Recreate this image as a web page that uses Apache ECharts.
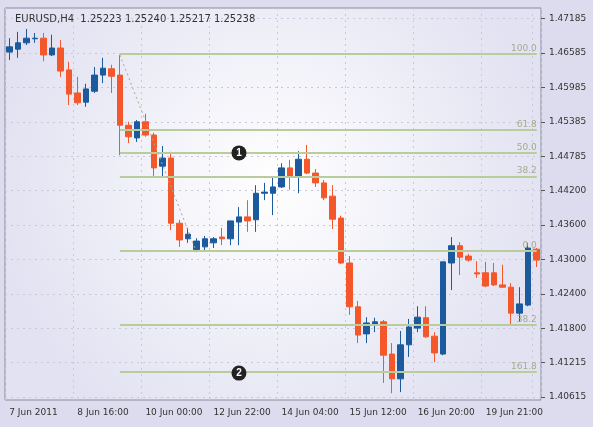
<!DOCTYPE html>
<html>
<head>
<meta charset="utf-8">
<script src="https://cdn.jsdelivr.net/npm/echarts@6/dist/echarts.min.js"></script>
<style>
  html, body { margin: 0; padding: 0; background: #dcdcee; }
  #main { width: 593px; height: 427px; }
</style>
</head>
<body>
<div id="main"></div>
<script>
// open, close, low, high per H4 bar
var opens  = [1.4660,1.4665,1.4676,1.4683,1.4684,1.4655,1.4667,1.4629,1.4589,1.4573,1.4592,1.4620,1.4631,1.4620,1.4533,1.4511,1.4539,1.4516,1.4462,1.4476,1.4363,1.4336,1.4317,1.4322,1.4329,1.4339,1.4336,1.4365,1.4374,1.4369,1.4415,1.4415,1.4426,1.4459,1.4443,1.4474,1.4450,1.4433,1.4410,1.4372,1.4294,1.4218,1.4171,1.4186,1.4192,1.4136,1.4093,1.4152,1.4181,1.4199,1.4167,1.4136,1.4294,1.4324,1.4306,1.4277,1.4277,1.4277,1.4256,1.4252,1.4207,1.4221,1.4318];
var closes = [1.4669,1.4676,1.4684,1.4684,1.4655,1.4667,1.4627,1.4587,1.4572,1.4596,1.4620,1.4632,1.4618,1.4533,1.4513,1.4539,1.4516,1.4459,1.4476,1.4363,1.4334,1.4344,1.4332,1.4336,1.4336,1.4336,1.4367,1.4374,1.4367,1.4415,1.4417,1.4426,1.4459,1.4445,1.4474,1.4450,1.4433,1.4407,1.4370,1.4294,1.4218,1.4169,1.4190,1.4192,1.4134,1.4093,1.4152,1.4183,1.4200,1.4166,1.4138,1.4296,1.4324,1.4304,1.4299,1.4275,1.4254,1.4256,1.4252,1.4207,1.4223,1.4320,1.4299];
var lows   = [1.4646,1.4650,1.4672,1.4676,1.4644,1.4653,1.4617,1.4568,1.4568,1.4565,1.4589,1.4606,1.4589,1.4481,1.4502,1.4504,1.4513,1.4445,1.4443,1.4351,1.4322,1.4329,1.4313,1.4315,1.4320,1.4325,1.4325,1.4325,1.4348,1.4348,1.4403,1.4377,1.4424,1.4421,1.4415,1.4448,1.4426,1.4403,1.4353,1.4292,1.4204,1.4155,1.4155,1.4174,1.4086,1.4068,1.4070,1.4131,1.4174,1.4164,1.4122,1.4134,1.4247,1.4273,1.4296,1.4268,1.4252,1.4254,1.4251,1.4188,1.4192,1.4219,1.4287];
var highs  = [1.4684,1.4695,1.4700,1.4693,1.4693,1.4690,1.4681,1.4643,1.4617,1.4605,1.4634,1.4650,1.4638,1.4655,1.4539,1.4542,1.4553,1.4520,1.4497,1.4487,1.4369,1.4355,1.4337,1.4341,1.4339,1.4355,1.4367,1.4391,1.4403,1.4429,1.4433,1.4443,1.4467,1.4473,1.4488,1.4499,1.4457,1.4438,1.4429,1.4376,1.4306,1.4228,1.4200,1.4199,1.4195,1.4155,1.4176,1.4197,1.4219,1.4219,1.4174,1.4296,1.4339,1.4330,1.4310,1.4297,1.4296,1.4294,1.4291,1.4259,1.4252,1.4329,1.4320];

var timeLabels = {0: "7 Jun 2011", 8: "8 Jun 16:00", 16: "10 Jun 00:00", 24: "12 Jun 22:00",
  32: "14 Jun 04:00", 40: "15 Jun 12:00", 48: "16 Jun 20:00", 56: "19 Jun 21:00"};
var priceTicks = [1.40615, 1.41215, 1.41800, 1.42400, 1.43000, 1.43600, 1.44200, 1.44785, 1.45385, 1.45985, 1.46585, 1.47185];

// fibonacci levels (price, label)
var fibLevels = [1.4657, 1.4525, 1.4485, 1.4444, 1.4315, 1.4186, 1.4105];
var fibNames  = ["100.0", "61.8", "50.0", "38.2", "0.0", "38.2", "161.8"];
var fibStart = 13;
var markers = [[27, 1.4485, "1"], [27, 1.4103, "2"]];

var cats = [], candles = [];
for (var i = 0; i < opens.length; i++) {
  cats.push(timeLabels[i] || "");
  candles.push([opens[i], closes[i], lows[i], highs[i]]);
}
var lastIdx = opens.length - 1;

var fibLines = fibLevels.map(function (v, k) {
  return [{ coord: [fibStart, v], label: { formatter: fibNames[k] } }, { coord: [lastIdx, v] }];
});
fibLines.push([{ coord: [13, highs[13]], lineStyle: { type: [2, 3], color: "#b0a890", width: 1 }, label: { show: false } },
               { coord: [22, lows[22]] }]);

var myChart = echarts.init(document.getElementById("main"));
var option = {
  animation: false,
  backgroundColor: "#dcdcee",
  title: {
    text: "EURUSD,H4  1.25223 1.25240 1.25217 1.25238",
    left: 10, top: 9,
    textStyle: { fontSize: 10, fontWeight: "normal", color: "#333", fontFamily: "DejaVu Sans" }
  },
  grid: {
    left: 5, right: 52, top: 8, bottom: 27, show: true,
    borderColor: "#8a8a9a", borderWidth: 1,
    backgroundColor: {
      type: "radial", x: 0.5, y: 0.45, r: 0.7,
      colorStops: [{ offset: 0, color: "#ffffff" }, { offset: 1, color: "#e2e2f2" }]
    }
  },
  xAxis: {
    type: "category",
    data: cats,
    axisLine: { show: false },
    axisTick: { show: false },
    axisLabel: { interval: 0, align: "left", margin: 8, fontSize: 9, color: "#333", fontFamily: "DejaVu Sans" },
    splitLine: { show: true, interval: 7, lineStyle: { type: [2, 4], color: "#c8c8d8" } }
  },
  yAxis: {
    type: "value",
    position: "right",
    min: 1.40563, max: 1.47364,
    axisLine: { show: false },
    axisTick: { show: true, customValues: priceTicks, length: 4, lineStyle: { color: "#555" } },
    axisLabel: { customValues: priceTicks, fontSize: 9, color: "#333", margin: 8, fontFamily: "DejaVu Sans",
      formatter: function (v) { return v.toFixed(5); } },
    splitLine: { show: true, lineStyle: { type: [2, 4], color: "#c8c8d8" } }
  },
  series: [{
    type: "candlestick",
    data: candles,
    barWidth: 6,
    itemStyle: {
      color: "#1c5a9e", color0: "#f4582a",
      borderColor: "#1c5a9e", borderColor0: "#f4582a", borderWidth: 1
    },
    markLine: {
      symbol: "none",
      silent: true,
      lineStyle: { type: "solid", color: "#b9cc9c", width: 2 },
      label: { position: "insideEndTop", distance: [0, 1], fontSize: 9, color: "#a3ad8c", fontFamily: "DejaVu Sans" },
      data: fibLines
    },
    markPoint: {
      symbol: "circle",
      symbolSize: 15,
      itemStyle: { color: "#222" },
      label: { color: "#fff", fontSize: 10, fontWeight: "bold" },
      data: markers.map(function (m) { return { coord: [m[0], m[1]], value: m[2] }; })
    }
  }]
};
myChart.setOption(option);
</script>
</body>
</html>
